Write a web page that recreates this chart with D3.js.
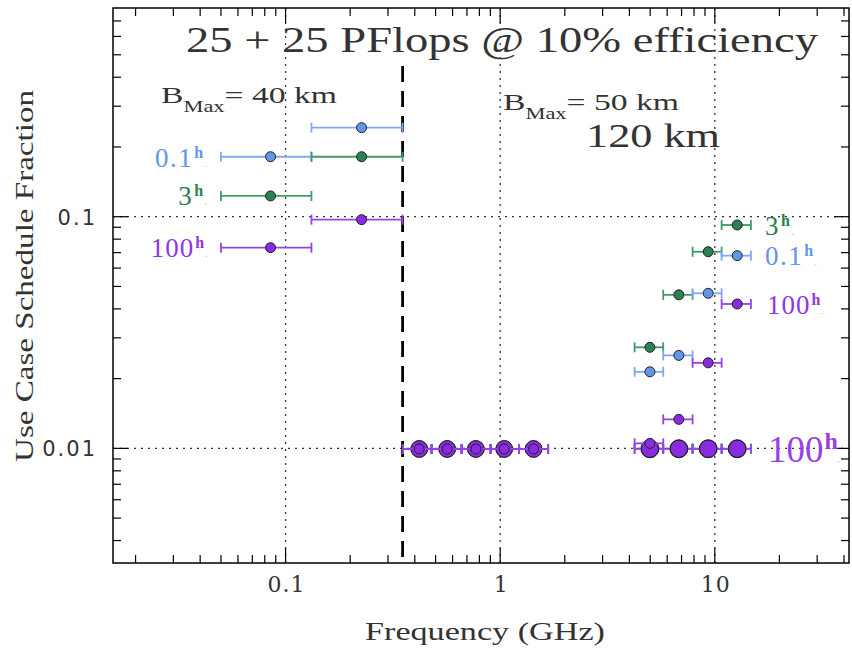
<!DOCTYPE html>
<html>
<head>
<meta charset="utf-8">
<script src="https://cdn.jsdelivr.net/npm/d3@7"></script>
<style>
  body { margin: 0; background: #fff; }
  svg { display: block; }
</style>
</head>
<body>
<div id="chart"></div>
<script>
// band centres and error-bar limits (GHz)
var freq40 = [0.0851, 0.226];
var freq40Lo = [0.05, 0.132];
var freq40Hi = [0.132, 0.351];
var blue40 = [0.1815, 0.2422];
var green40 = [0.1229, 0.1815];
var purple40 = [0.0735, 0.0971];

var freqMid = [0.4195, 0.566, 0.7705, 1.044, 1.431];
var freqMidLo = [0.353, 0.479, 0.661, 0.902, 1.222];
var freqMidHi = [0.479, 0.661, 0.902, 1.222, 1.674];
var purpleMid = [0.00994, 0.00994, 0.00994, 0.00994, 0.00994];

var freq120 = [4.985, 6.80, 9.315, 12.72];
var freq120Lo = [4.23, 5.75, 7.88, 10.76];
var freq120Hi = [5.75, 7.88, 10.76, 14.73];
var green120 = [0.0273, 0.046, 0.0706, 0.0921];
var blue120 = [0.0214, 0.0252, 0.0467, 0.0679];
var purple120 = [0.01051, 0.01334, 0.0234, 0.042];
var floor120 = [0.00996, 0.00996, 0.00996, 0.00996];

var bandEdge = 0.351;
var xTickLabels = ["0.1", "1", "10"];
var xTickValues = [0.1, 1, 10];
var yTickLabels = ["0.1", "0.01"];
var yTickValues = [0.1, 0.01];

var W = 852, H = 648;
var x = d3.scaleLog().domain([0.0157, 42.2]).range([113, 849]);
var y = d3.scaleLog().domain([0.0032, 0.796]).range([563, 8]);

var col = {
    blue: "#6196e8", blueBar: "#7fa9ee",
    green: "#2b8150", greenBar: "#3f9a68",
    purple: "#8a2be2", purpleBar: "#9442ea"
};
var serif = "Liberation Serif";
var ink = "#333";

var svg = d3.select("#chart").append("svg")
    .attr("width", W).attr("height", H);

// dotted grid at decades
svg.append("g").selectAll("line").data(xTickValues).join("line")
    .attr("x1", d => x(d)).attr("x2", d => x(d))
    .attr("y1", y.range()[0]).attr("y2", y.range()[1])
    .attr("stroke", "#333").attr("stroke-width", 1.3).attr("stroke-dasharray", "2,5");
svg.append("g").selectAll("line").data(yTickValues).join("line")
    .attr("x1", x.range()[0]).attr("x2", x.range()[1])
    .attr("y1", d => y(d)).attr("y2", d => y(d))
    .attr("stroke", "#333").attr("stroke-width", 1.3).attr("stroke-dasharray", "2,5");

// ticks (inward, all four sides)
function logTicks(scale) {
    var d = scale.domain(), out = [];
    for (var e = Math.floor(Math.log10(d[0])); e <= Math.ceil(Math.log10(d[1])); e++) {
        for (var m = 1; m < 10; m++) {
            var v = m * Math.pow(10, e);
            if (v >= d[0] && v <= d[1]) out.push({v: v, major: m === 1});
        }
    }
    return out;
}
var tg = svg.append("g").attr("stroke", "#000").attr("stroke-width", 1.2);
logTicks(x).forEach(function(t) {
    var L = t.major ? 15 : 8;
    tg.append("line").attr("x1", x(t.v)).attr("x2", x(t.v)).attr("y1", 563).attr("y2", 563 - L);
    tg.append("line").attr("x1", x(t.v)).attr("x2", x(t.v)).attr("y1", 8).attr("y2", 8 + L);
});
logTicks(y).forEach(function(t) {
    var L = t.major ? 15 : 8;
    tg.append("line").attr("y1", y(t.v)).attr("y2", y(t.v)).attr("x1", 113).attr("x2", 113 + L);
    tg.append("line").attr("y1", y(t.v)).attr("y2", y(t.v)).attr("x1", 849).attr("x2", 849 - L);
});

// frame
svg.append("rect").attr("x", 113).attr("y", 8).attr("width", 736).attr("height", 555)
    .attr("fill", "none").attr("stroke", "#000").attr("stroke-width", 1.5);

// dashed band boundary
svg.append("line").attr("x1", x(bandEdge)).attr("x2", x(bandEdge))
    .attr("y1", 66).attr("y2", 563)
    .attr("stroke", "#000").attr("stroke-width", 2.8).attr("stroke-dasharray", "16,9");

// tick labels
svg.append("g").selectAll("text").data(xTickValues).join("text")
    .attr("x", d => x(d) + 1).attr("y", 592)
    .attr("text-anchor", "middle")
    .style("font-family", "DejaVu Serif").style("font-size", "22px")
    .attr("fill", ink)
    .style("letter-spacing", "1px")
    .text((d, i) => xTickLabels[i]);
svg.append("g").selectAll("text").data(yTickValues).join("text")
    .attr("x", 97).attr("y", d => y(d) + 8)
    .attr("text-anchor", "end")
    .style("font-family", "DejaVu Sans").style("font-size", "21px")
    .style("letter-spacing", "2px").attr("fill", ink)
    .text((d, i) => yTickLabels[i]);

// axis titles
svg.append("text").attr("x", 365).attr("y", 640)
    .attr("textLength", 240).attr("lengthAdjust", "spacingAndGlyphs")
    .style("font-family", serif).style("font-size", "26px").attr("fill", ink)
    .text("Frequency (GHz)");
svg.append("text").attr("transform", "translate(33,462) rotate(-90)")
    .attr("textLength", 372).attr("lengthAdjust", "spacingAndGlyphs")
    .style("font-family", serif).style("font-size", "26px").attr("fill", ink)
    .text("Use Case Schedule Fraction");

// error bars + markers
function series(fx, lo, hi, vals, fill, barCol, r) {
    var g = svg.append("g");
    vals.forEach(function(v, i) {
        var yy = y(v);
        g.append("line").attr("x1", x(lo[i])).attr("x2", x(hi[i])).attr("y1", yy).attr("y2", yy)
            .attr("stroke", barCol).attr("stroke-width", 1.8);
        [lo[i], hi[i]].forEach(function(e) {
            g.append("line").attr("x1", x(e)).attr("x2", x(e)).attr("y1", yy - 5).attr("y2", yy + 5)
                .attr("stroke", barCol).attr("stroke-width", 1.8);
        });
    });
    g.selectAll("circle").data(vals).join("circle")
        .attr("cx", (d, i) => x(fx[i])).attr("cy", d => y(d)).attr("r", r)
        .attr("fill", fill).attr("stroke", "#222").attr("stroke-width", 1);
}

series(freq40, freq40Lo, freq40Hi, blue40, col.blue, col.blueBar, 5);
series(freq40, freq40Lo, freq40Hi, green40, col.green, col.greenBar, 5);
series(freq40, freq40Lo, freq40Hi, purple40, col.purple, col.purpleBar, 5);

series(freqMid, freqMidLo, freqMidHi, purpleMid, col.blue, col.blueBar, 8.3);
series(freqMid, freqMidLo, freqMidHi, purpleMid, col.purple, col.purpleBar, 8.3);
series(freqMid, freqMidLo, freqMidHi, purpleMid, col.purple, col.purpleBar, 5);

series(freq120, freq120Lo, freq120Hi, green120, col.green, col.greenBar, 5);
series(freq120, freq120Lo, freq120Hi, blue120, col.blue, col.blueBar, 5);
series(freq120, freq120Lo, freq120Hi, floor120, col.green, col.greenBar, 9);
series(freq120, freq120Lo, freq120Hi, floor120, col.purple, col.purpleBar, 8.6);
series(freq120, freq120Lo, freq120Hi, purple120, col.purple, col.purpleBar, 5);

// annotations
svg.append("text").attr("x", 186).attr("y", 52)
    .attr("textLength", 632).attr("lengthAdjust", "spacingAndGlyphs")
    .style("font-family", serif).style("font-size", "35px").attr("fill", ink)
    .text("25 + 25 PFlops @ 10% efficiency");

function bmax(x0, y0, txt, len) {
    var t = svg.append("text").attr("x", x0).attr("y", y0)
        .attr("textLength", len).attr("lengthAdjust", "spacingAndGlyphs")
        .style("font-family", serif).style("font-size", "24px").attr("fill", ink);
    t.append("tspan").text("B");
    t.append("tspan").attr("dy", 9).style("font-size", "16px").text("Max");
    t.append("tspan").attr("dy", -9).text("= " + txt);
}
bmax(161, 103, "40 km", 176);
bmax(503, 110, "50 km", 176);
svg.append("text").attr("x", 586).attr("y", 147)
    .attr("textLength", 134).attr("lengthAdjust", "spacingAndGlyphs")
    .style("font-family", serif).style("font-size", "33px")
    .attr("fill", ink).text("120 km");

function hours(x0, y0, anchor, num, color, size, sup, rise, ls) {
    var t = svg.append("text").attr("x", x0).attr("y", y0).attr("text-anchor", anchor)
        .style("font-family", serif).style("font-size", size + "px")
        .style("letter-spacing", ls + "px").attr("fill", color);
    t.append("tspan").text(num);
    t.append("tspan").attr("dy", -rise).attr("dx", 1).style("font-size", sup + "px")
        .style("font-weight", "bold").text("h");
    t.append("tspan").attr("dy", rise).style("font-size", "7px").text(".");
}
hours(208, 167, "end", "0.1", col.blue, 27, 16, 9, 1.5);
hours(208, 205, "end", "3", col.green, 27, 16, 9, 1.5);
hours(208, 257, "end", "100", "#9136e6", 27, 16, 9, 1);
hours(765, 235, "start", "3", col.green, 27, 16, 9, 1.5);
hours(765, 265, "start", "0.1", col.blue, 27, 16, 9, 1.5);
hours(767, 314, "start", "100", "#9136e6", 27, 16, 9, 1);
hours(768, 462, "start", "100", "#9a3ee8", 37, 24, 13, 0);
</script>
</body>
</html>
